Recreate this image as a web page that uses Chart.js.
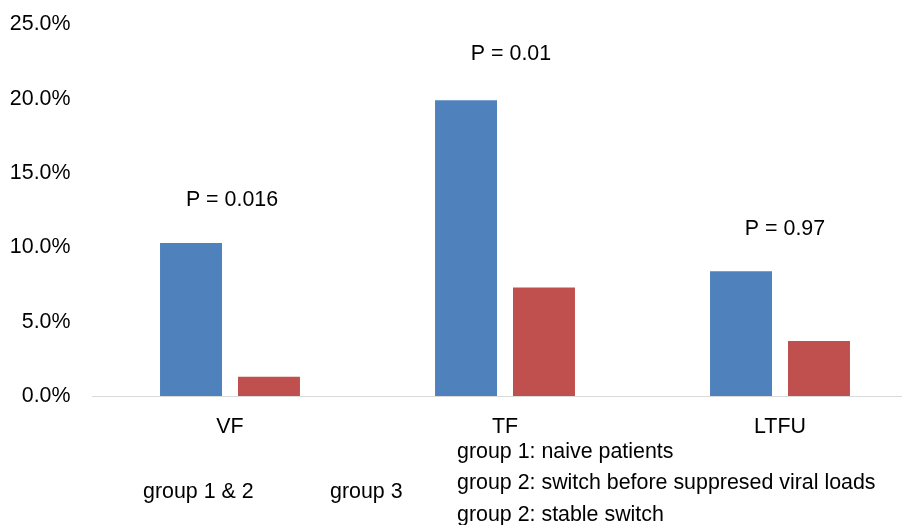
<!DOCTYPE html>
<html>
<head>
<meta charset="utf-8">
<script src="https://cdn.jsdelivr.net/npm/chart.js@4"></script>
<style>
  html, body { margin: 0; padding: 0; background: #fff; overflow: hidden; }
  canvas { display: block; }
</style>
</head>
<body>
<canvas id="chart" width="920" height="525"></canvas>
<script>
// ─── Data ───────────────────────────────────────────────────
const categories = ['VF', 'TF', 'LTFU'];
const group12 = [10.3, 19.9, 8.4];
const group3 = [1.3, 7.3, 3.7];
const pLabels = ['P = 0.016', 'P = 0.01', 'P = 0.97'];
const yTicks = [0, 5, 10, 15, 20, 25];
const legendSeries = ['group 1 & 2', 'group 3'];
const legendNotes = [
  'group 1: naive patients',
  'group 2: switch before suppresed viral loads',
  'group 2: stable switch'
];

const FONT = "'Liberation Sans', Arial, sans-serif";
const FSIZE = 21.4;
const BLUE = '#4f81bd';
const RED = '#c0504d';

// P-value text above each category, plus the bottom legend text
const annotations = {
  id: 'annotations',
  afterDraw(chart, args, opts) {
    const { ctx } = chart;
    const x = chart.scales.x, y = chart.scales.y;
    ctx.save();
    ctx.fillStyle = '#000';
    ctx.font = FSIZE + 'px ' + FONT;
    ctx.textAlign = 'center';
    ctx.textBaseline = 'middle';
    pLabels.forEach((t, i) => {
      ctx.fillText(t, x.getPixelForValue(i) + opts.pDx[i], y.getPixelForValue(opts.pAt[i]));
    });
    ctx.textAlign = 'left';
    legendSeries.forEach((t, i) => ctx.fillText(t, opts.seriesX[i], 492));
    legendNotes.forEach((t, i) => ctx.fillText(t, 457, 452 + i * 31.5));
    ctx.restore();
  }
};

new Chart(document.getElementById('chart'), {
  type: 'bar',
  data: {
    labels: categories,
    datasets: [
      { label: legendSeries[0], data: group12, backgroundColor: BLUE,
        categoryPercentage: 0.567, barPercentage: 0.795 },
      { label: legendSeries[1], data: group3, backgroundColor: RED,
        categoryPercentage: 0.567, barPercentage: 0.795 }
    ]
  },
  options: {
    responsive: false,
    animation: false,
    layout: { padding: { top: 24.5, right: 2.5, left: 0, bottom: 0 } },
    plugins: {
      legend: { display: false },
      tooltip: { enabled: false },
      annotations: { pAt: [13.2, 23.0, 11.2], pDx: [2, 6, 5], seriesX: [143, 330] }
    },
    scales: {
      x: {
        grid: { display: false, drawTicks: false },
        border: { display: true, color: '#d9d9d9', width: 1 },
        ticks: { color: '#000', font: { family: FONT, size: FSIZE }, padding: 18 },
        afterFit: (s) => { s.height = 129; s.paddingLeft = 0; s.paddingRight = 0; }
      },
      y: {
        min: 0, max: 25,
        afterBuildTicks: (s) => { s.ticks = yTicks.map(v => ({ value: v })); },
        grid: { display: false, drawTicks: false },
        border: { display: false },
        ticks: {
          color: '#000', font: { family: FONT, size: FSIZE }, padding: 22,
          callback: (v) => Number(v).toFixed(1) + '%'
        },
        afterFit: (s) => { s.width = 92.5; s.paddingTop = 0; s.paddingBottom = 0; }
      }
    }
  },
  plugins: [annotations]
});
</script>
</body>
</html>
